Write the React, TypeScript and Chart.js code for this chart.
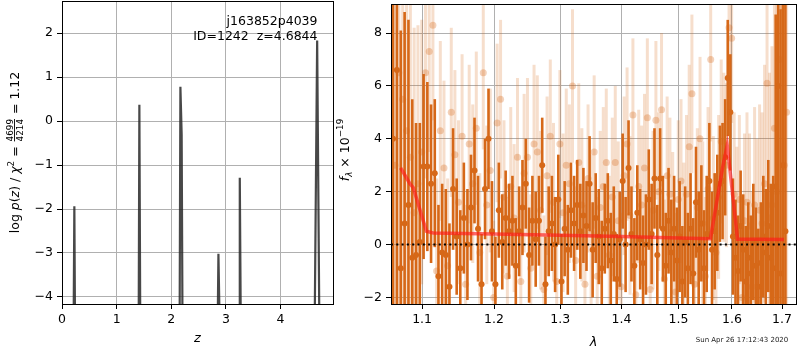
import React, { useEffect, useRef } from 'react';
import { Chart, registerables } from 'chart.js';
Chart.register(...registerables);

// ---------------- left panel: log p(z) ----------------
const zGrid = [0.0, 0.213, 0.226, 0.238, 1.404, 1.416, 1.432, 2.153, 2.167, 2.19, 2.205, 2.85, 2.863, 2.885, 3.24, 3.254, 3.272, 4.625, 4.67, 4.71, 4.96];
const logPz = [-4.6, -4.6, -1.94, -4.6, -4.6, 0.37, -4.6, -4.6, 0.78, -0.3, -4.6, -4.6, -3.02, -4.6, -4.6, -1.29, -4.6, -4.6, 1.83, -4.6, -4.6];
const zTicks = [0, 1, 2, 3, 4];
const logPTicks = [-4, -3, -2, -1, 0, 1, 2];
const Z_MIN = 0, Z_MAX = 4.96, LOGP_MIN = -4.16, LOGP_MAX = 2.73;
const titleLine1 = 'j163852p4039';
const titleLine2 = 'ID=1242  z=4.6844';

// ---------------- right panel: spectrum ----------------
const lamDark = [
  1.062, 1.067, 1.072, 1.077, 1.082, 1.087, 1.092, 1.097, 1.102, 1.107,
  1.112, 1.117, 1.122, 1.127, 1.132, 1.137, 1.142, 1.147, 1.152, 1.157,
  1.162, 1.167, 1.172, 1.177, 1.182, 1.187, 1.192, 1.197, 1.202, 1.207,
  1.212, 1.217, 1.222, 1.227, 1.232, 1.237, 1.242, 1.247, 1.252, 1.257,
  1.262, 1.267, 1.272, 1.277, 1.282, 1.287, 1.292, 1.297, 1.302, 1.307,
  1.312, 1.317, 1.322, 1.327, 1.332, 1.337, 1.342, 1.347, 1.352, 1.357,
  1.362, 1.367, 1.372, 1.377, 1.382, 1.387, 1.392, 1.397, 1.402, 1.407,
  1.412, 1.417, 1.422, 1.427, 1.432, 1.437, 1.442, 1.447, 1.452, 1.457,
  1.462, 1.467, 1.472, 1.477, 1.482, 1.487, 1.492, 1.497, 1.502, 1.507,
  1.512, 1.517, 1.522, 1.527, 1.532, 1.537, 1.542, 1.547, 1.552, 1.557,
  1.562, 1.567, 1.572, 1.577, 1.582, 1.587, 1.592, 1.597, 1.602, 1.607,
  1.612, 1.617, 1.622, 1.627, 1.632, 1.637, 1.642, 1.647, 1.652, 1.657,
  1.662, 1.667, 1.672, 1.677, 1.682, 1.687, 1.692, 1.697, 1.702, 1.707,
];
const fluxDark = [
  4.0, 6.6, -0.9, 0.8, 1.5, -0.5, -0.4, 0.1, 2.95, 2.95,
  2.3, 2.7, -1.2, -0.3, -0.4, -1.6, 2.1, 0.3, -0.9, 1.0,
  0.0, 1.4, 2.8, 0.6, -1.5, 2.1, 4.0, 0.5, -1.5, 1.3,
  0.1, 1.0, 0.5, 0.9, -0.8, 0.5, 1.4, 2.3, -0.4, 0.9,
  0.2, 0.9, 3.0, -1.5, 0.5, 0.8, 0.0, 1.7, -1.4, 0.6,
  -0.2, 1.3, 0.8, 1.5, 0.5, 1.1, 0.7, 2.3, -0.2, 1.0,
  0.3, -0.9, 0.6, 0.9, -0.6, 0.4, -1.3, 0.2, 2.4, 0.0,
  2.9, 0.4, -0.8, 1.2, 0.2, -0.7, 0.0, 1.7, 0.4, 2.5,
  -0.4, 2.5, 0.6, -0.8, 0.9, -0.3, 0.6, -0.6, 0.3, -1.4,
  0.1, -0.9, 0.6, -1.1, 1.6, -0.2, 0.8, -0.9, 0.4, 2.4,
  -0.2, 0.5, 1.2, 2.3, 2.4, 3.3, 6.3, 5.0, 0.3, -0.5,
  -1.0, 0.7, -0.2, -1.4, -0.5, -1.1, 0.1, -0.8, -1.6, -0.7,
  0.3, -0.3, 0.7, -0.5, -0.9, 2.2, 6.0, -1.1, 3.0, 0.5,
];
const errDark = [
  12, 10, 9, 8, 7, 6, 5, 4.5, 3.5, 3.2,
  3.0, 2.8, 2.7, 2.6, 2.5, 2.4, 2.3, 2.2, 2.2, 2.1,
  2.1, 2.0, 2.0, 2.0, 1.9, 1.9, 1.9, 1.9, 1.8, 1.8,
  1.8, 1.8, 1.8, 1.7, 1.8, 1.7, 1.8, 1.7, 1.8, 1.7,
  1.8, 1.7, 1.8, 1.8, 1.7, 1.8, 1.8, 1.7, 1.8, 1.8,
  1.7, 1.8, 1.8, 1.7, 1.8, 1.8, 1.7, 1.8, 1.8, 1.7,
  1.8, 1.8, 1.7, 1.8, 1.8, 1.8, 1.7, 1.8, 1.8, 1.8,
  1.8, 1.8, 1.8, 1.8, 1.9, 1.8, 1.9, 1.9, 1.9, 1.9,
  1.9, 1.9, 2.0, 2.0, 2.0, 2.0, 2.0, 2.0, 2.1, 2.1,
  2.1, 2.1, 2.1, 2.1, 2.1, 2.2, 2.2, 2.2, 2.2, 2.2,
  2.2, 2.2, 2.2, 2.2, 2.2, 2.2, 2.2, 2.2, 2.2, 2.2,
  2.1, 2.1, 2.1, 2.1, 2.1, 2.2, 2.2, 2.2, 2.2, 2.3,
  2.3, 2.4, 2.5, 2.8, 3.5, 6.5, 9, 10, 11, 12,
];
const lamLight = [
  1.0645, 1.0695, 1.0745, 1.0795, 1.0845, 1.0895, 1.0945, 1.0995, 1.1045, 1.1095,
  1.1145, 1.1195, 1.1245, 1.1295, 1.1345, 1.1395, 1.1445, 1.1495, 1.1545, 1.1595,
  1.1645, 1.1695, 1.1745, 1.1795, 1.1845, 1.1895, 1.1945, 1.1995, 1.2045, 1.2095,
  1.2145, 1.2195, 1.2245, 1.2295, 1.2345, 1.2395, 1.2445, 1.2495, 1.2545, 1.2595,
  1.2645, 1.2695, 1.2745, 1.2795, 1.2845, 1.2895, 1.2945, 1.2995, 1.3045, 1.3095,
  1.3145, 1.3195, 1.3245, 1.3295, 1.3345, 1.3395, 1.3445, 1.3495, 1.3545, 1.3595,
  1.3645, 1.3695, 1.3745, 1.3795, 1.3845, 1.3895, 1.3945, 1.3995, 1.4045, 1.4095,
  1.4145, 1.4195, 1.4245, 1.4295, 1.4345, 1.4395, 1.4445, 1.4495, 1.4545, 1.4595,
  1.4645, 1.4695, 1.4745, 1.4795, 1.4845, 1.4895, 1.4945, 1.4995, 1.5045, 1.5095,
  1.5145, 1.5195, 1.5245, 1.5295, 1.5345, 1.5395, 1.5445, 1.5495, 1.5545, 1.5595,
  1.5645, 1.5695, 1.5745, 1.5795, 1.5845, 1.5895, 1.5945, 1.5995, 1.6045, 1.6095,
  1.6145, 1.6195, 1.6245, 1.6295, 1.6345, 1.6395, 1.6445, 1.6495, 1.6545, 1.6595,
  1.6645, 1.6695, 1.6745, 1.6795, 1.6845, 1.6895, 1.6945, 1.6995, 1.7045, 1.7095,
];
const fluxLight = [
  3.0, 6.5, 5.5, 4.3, 3.3, 1.2, 2.3, 3.5, 6.5, 7.3,
  8.3, -1.0, 4.3, 2.9, -0.8, 5.0, 3.4, 1.6, 4.1, -1.5,
  3.8, 2.3, 4.4, -0.3, 6.5, 1.5, 2.8, -2.0, 4.6, 5.5,
  1.8, -1.2, 2.2, 1.0, 3.3, -1.4, 2.7, 3.3, -0.9, 3.8,
  3.5, 1.3, -1.7, 2.6, 4.1, 1.6, -1.4, 3.8, 1.2, 3.0,
  2.3, 6.0, -0.6, 3.1, 1.5, -1.5, 2.5, 0.4, 3.5, -1.2,
  1.4, 2.2, 3.1, -0.4, 1.8, 3.1, 0.9, -1.6, 2.6, 3.8,
  1.1, 4.9, -1.9, 2.2, 1.5, 2.9, 4.8, -1.7, 1.3, 4.7,
  2.0, 5.1, -1.3, 2.6, 1.9, 0.5, -1.8, 1.7, 2.4, 0.1,
  1.9, 3.7, 5.7, -1.5, 1.4, 4.0, 0.8, -1.2, 2.1, 7.0,
  1.0, -0.3, 1.8, 3.9, 3.3, 3.0, 8.2, 7.8, 1.9, 0.5,
  1.7, -2.0, 0.9, 1.6, 0.7, -1.6, 1.5, 0.2, 1.3, 0.8,
  2.3, 6.1, 1.0, 1.5, 4.4, 2.0, 7.0, 9.0, 3.0, 5.0,
];
const errLight = [
  12, 11, 10, 9, 8, 7, 6, 5, 4, 3.8,
  3.6, 3.5, 3.4, 3.3, 3.3, 3.2, 3.2, 3.1, 3.1, 3.0,
  3.0, 3.0, 2.9, 3.0, 2.9, 3.0, 3.1, 2.9, 3.0, 3.0,
  2.9, 3.0, 3.0, 2.8, 3.0, 2.9, 3.0, 3.0, 2.8, 3.0,
  2.9, 3.0, 2.8, 3.0, 2.9, 3.0, 2.9, 2.8, 3.0, 2.9,
  3.0, 2.9, 2.8, 3.0, 2.9, 3.0, 2.8, 3.0, 2.9, 3.0,
  2.9, 3.0, 2.8, 3.0, 3.0, 2.9, 3.0, 2.8, 3.0, 2.9,
  3.0, 2.9, 3.0, 2.9, 3.0, 2.8, 3.0, 2.9, 3.0, 3.0,
  3.0, 2.9, 3.0, 3.0, 2.9, 3.0, 3.0, 3.0, 3.1, 3.0,
  3.0, 3.1, 3.0, 3.1, 3.0, 3.1, 3.1, 3.0, 3.1, 3.1,
  3.1, 3.0, 3.1, 3.1, 3.2, 3.1, 3.2, 3.2, 3.1, 3.2,
  3.2, 3.3, 3.3, 3.4, 3.5, 3.6, 3.7, 3.8, 4.0, 4.2,
  4.5, 5, 5.5, 6, 7, 8, 9, 10, 11, 12,
];
const modelLam = [1.0718, 1.0839, 1.0883, 1.1058, 1.115, 1.2, 1.3, 1.4, 1.5, 1.559, 1.582, 1.591, 1.611, 1.65, 1.704];
const modelFlux = [2.9, 2.3, 2.15, 0.5, 0.44, 0.4, 0.35, 0.3, 0.25, 0.22, 2.9, 3.75, 0.2, 0.2, 0.19];
const lamTicks = [1.1, 1.2, 1.3, 1.4, 1.5, 1.6, 1.7];
const fluxTicks = [-2, 0, 2, 4, 6, 8];
const LAM_MIN = 1.0594, LAM_MAX = 1.729, F_MIN = -2.25, F_MAX = 9.1;
const timestamp = 'Sun Apr 26 17:12:43 2020';

// ---------------- styling ----------------
const FONT = '"DejaVu Sans", sans-serif';
const TICK_FONT = { family: FONT, size: 12.5 };
const DARK = 'rgb(214,104,24)';
const LIGHT_BAR = 'rgba(214,104,24,0.22)';
const LIGHT_PT = 'rgba(214,104,24,0.3)';

const uminus = (s: string) => s.replace('-', '\u2212');

type Piece = { t?: string; font: string; dy?: number; frac?: [string, string] };

function drawPieces(ctx: CanvasRenderingContext2D, pieces: Piece[], cx: number, cy: number) {
  ctx.save();
  ctx.translate(cx, cy);
  ctx.rotate(-Math.PI / 2);
  ctx.textBaseline = 'alphabetic';
  ctx.fillStyle = '#000';
  const widths = pieces.map((p) => {
    ctx.font = p.font;
    if (p.frac) return Math.max(ctx.measureText(p.frac[0]).width, ctx.measureText(p.frac[1]).width) + 2;
    return ctx.measureText(p.t || '').width;
  });
  const total = widths.reduce((a, b) => a + b, 0);
  let x = -total / 2;
  pieces.forEach((p, i) => {
    ctx.font = p.font;
    const w = widths[i];
    if (p.frac) {
      ctx.textAlign = 'center';
      ctx.fillText(p.frac[0], x + w / 2, -5.5);
      ctx.fillText(p.frac[1], x + w / 2, 4.2);
      ctx.fillRect(x + 1, -4.4, w - 2, 0.9);
    } else {
      ctx.textAlign = 'left';
      ctx.fillText(p.t || '', x, p.dy || 0);
    }
    x += w;
  });
  ctx.restore();
}

function errorBarPlugin() {
  return {
    id: 'errorBars',
    beforeDatasetDraw(chart: any, args: any) {
      const ds = chart.data.datasets[args.index];
      if (!ds.errors) return;
      const { ctx, chartArea: a, scales } = chart;
      ctx.save();
      ctx.beginPath();
      ctx.rect(a.left, a.top, a.right - a.left, a.bottom - a.top);
      ctx.clip();
      ctx.strokeStyle = ds.errorColor;
      ctx.lineWidth = ds.errorWidth;
      ds.data.forEach((p: any, i: number) => {
        const x = scales.x.getPixelForValue(p.x);
        const y1 = scales.y.getPixelForValue(p.y - ds.errors[i]);
        const y2 = scales.y.getPixelForValue(p.y + ds.errors[i]);
        ctx.beginPath();
        ctx.moveTo(x, y1);
        ctx.lineTo(x, y2);
        ctx.stroke();
      });
      ctx.restore();
    },
  };
}

function framePlugin() {
  return {
    id: 'frame',
    afterDraw(chart: any) {
      const { ctx, chartArea: a } = chart;
      ctx.save();
      ctx.strokeStyle = '#000';
      ctx.lineWidth = 1;
      ctx.strokeRect(a.left + 0.5, a.top + 0.5, a.right - a.left, a.bottom - a.top);
      ctx.restore();
    },
  };
}

function makeAxis(min: number, max: number, ticks: number[], isY: boolean, size: number, type = 'linear', fmt?: (v: number) => string) {
  return {
    type,
    min,
    max,
    z: 1,
    border: { display: false },
    grid: { color: '#b0b0b0', lineWidth: 1, tickColor: '#000', tickLength: 5, drawTicks: true },
    ticks: {
      font: TICK_FONT,
      color: '#000',
      padding: isY ? 4 : 3,
      autoSkip: false,
      maxRotation: 0,
      callback: (v: any) => (fmt ? fmt(Number(v)) : uminus(String(v))),
    },
    afterBuildTicks: (scale: any) => {
      scale.ticks = ticks.map((v) => ({ value: v }));
    },
    afterFit: (scale: any) => {
      if (isY) scale.width = size;
      else scale.height = size;
      scale.paddingTop = 0;
      scale.paddingBottom = 0;
      scale.paddingLeft = 0;
      scale.paddingRight = 0;
    },
  };
}

export default function App() {
  const leftRef = useRef<HTMLCanvasElement>(null);
  const rightRef = useRef<HTMLCanvasElement>(null);

  useEffect(() => {
    const left = new Chart(leftRef.current!, {
      type: 'scatter',
      data: {
        datasets: [
          {
            data: zGrid.map((z, i) => ({ x: z, y: logPz[i] })),
            showLine: true,
            borderColor: 'rgba(40,40,40,0.85)',
            borderWidth: 2.2,
            pointRadius: 0,
            tension: 0,
          } as any,
        ],
      },
      options: {
        responsive: false,
        animation: false,
        devicePixelRatio: 1,
        layout: { padding: { top: 1, right: 3, left: 0, bottom: 0 } },
        plugins: { legend: { display: false }, tooltip: { enabled: false } },
        scales: {
          x: makeAxis(Z_MIN, Z_MAX, zTicks, false, 46) as any,
          y: makeAxis(LOGP_MIN, LOGP_MAX, logPTicks, true, 62) as any,
        },
      },
      plugins: [
        framePlugin(),
        {
          id: 'leftText',
          afterDraw(chart: any) {
            const { ctx, chartArea: a } = chart;
            ctx.save();
            ctx.fillStyle = '#000';
            ctx.font = `12.5px ${FONT}`;
            ctx.textAlign = 'right';
            ctx.textBaseline = 'alphabetic';
            ctx.fillText(titleLine1, 317.5, 25);
            ctx.fillText(titleLine2, 317.5, 39.5);
            ctx.textAlign = 'center';
            ctx.font = `italic 13px ${FONT}`;
            ctx.fillText('z', (a.left + a.right) / 2, 342);
            ctx.restore();
            const n = `12.5px ${FONT}`;
            const it = `italic 12.5px ${FONT}`;
            const sm = `8.8px ${FONT}`;
            drawPieces(ctx, [
              { t: 'log ', font: n },
              { t: 'p', font: it },
              { t: '(', font: n },
              { t: 'z', font: it },
              { t: ') / ', font: n },
              { t: '\u03c7', font: it },
              { t: '2', font: sm, dy: -5 },
              { t: ' = ', font: n },
              { font: sm, frac: ['4699', '4214'] },
              { t: ' = 1.12', font: n },
            ], 18.5, (a.top + a.bottom) / 2);
          },
        },
      ],
    });

    const right = new Chart(rightRef.current!, {
      type: 'scatter',
      data: {
        datasets: [
          {
            data: [{ x: LAM_MIN, y: 0 }, { x: LAM_MAX, y: 0 }],
            showLine: true,
            borderColor: '#000',
            borderWidth: 2,
            borderDash: [2, 3.3],
            pointRadius: 0,
            order: 0,
          },
          {
            data: modelLam.map((l, i) => ({ x: l, y: modelFlux[i] })),
            showLine: true,
            borderColor: 'rgba(255,25,25,0.65)',
            borderWidth: 3.5,
            pointRadius: 0,
            tension: 0,
            order: 1,
          },
          {
            data: lamDark.map((l, i) => ({ x: l, y: fluxDark[i] })),
            pointRadius: 3,
            pointBorderWidth: 0,
            pointBackgroundColor: DARK,
            errors: errDark,
            errorColor: DARK,
            errorWidth: 2.6,
            order: 2,
          },
          {
            data: lamLight.map((l, i) => ({ x: l, y: fluxLight[i] })),
            pointRadius: 3.5,
            pointBorderWidth: 0,
            pointBackgroundColor: LIGHT_PT,
            errors: errLight,
            errorColor: LIGHT_BAR,
            errorWidth: 3,
            order: 3,
          },
        ] as any,
      },
      options: {
        responsive: false,
        animation: false,
        devicePixelRatio: 1,
        layout: { padding: { top: 1, right: 1, left: 0, bottom: 0 } },
        plugins: { legend: { display: false }, tooltip: { enabled: false } },
        scales: {
          x: makeAxis(LAM_MIN, LAM_MAX, lamTicks, false, 46, 'logarithmic', (v) => v.toFixed(1)) as any,
          y: makeAxis(F_MIN, F_MAX, fluxTicks, true, 55) as any,
        },
      },
      plugins: [
        errorBarPlugin(),
        framePlugin(),
        {
          id: 'rightText',
          afterDraw(chart: any) {
            const { ctx, chartArea: a } = chart;
            ctx.save();
            ctx.fillStyle = '#000';
            ctx.textAlign = 'center';
            ctx.textBaseline = 'alphabetic';
            ctx.font = `italic 13px ${FONT}`;
            ctx.fillText('\u03bb', (a.left + a.right) / 2, 345.5);
            ctx.font = `7px ${FONT}`;
            ctx.fillStyle = '#222';
            ctx.fillText(timestamp, 742 - 336, 342);
            ctx.restore();
            const n = `12.5px ${FONT}`;
            const it = `italic 12.5px ${FONT}`;
            const smi = `italic 8.8px ${FONT}`;
            const sm = `8.8px ${FONT}`;
            drawPieces(ctx, [
              { t: 'f', font: it },
              { t: '\u03bb', font: smi, dy: 3 },
              { t: ' \u00d7 10', font: n },
              { t: '\u221219', font: sm, dy: -5.5 },
            ], 348.5 - 336, 150);
          },
        },
      ],
    });

    return () => {
      left.destroy();
      right.destroy();
    };
  }, []);

  return (
    <div style={{ position: 'fixed', left: 0, top: 0, width: 800, height: 350, background: '#fff', overflow: 'hidden' }}>
      <canvas ref={leftRef} width={336} height={350} style={{ position: 'absolute', left: 0, top: 0, width: 336, height: 350 }} />
      <canvas ref={rightRef} width={464} height={350} style={{ position: 'absolute', left: 336, top: 0, width: 464, height: 350 }} />
    </div>
  );
}
